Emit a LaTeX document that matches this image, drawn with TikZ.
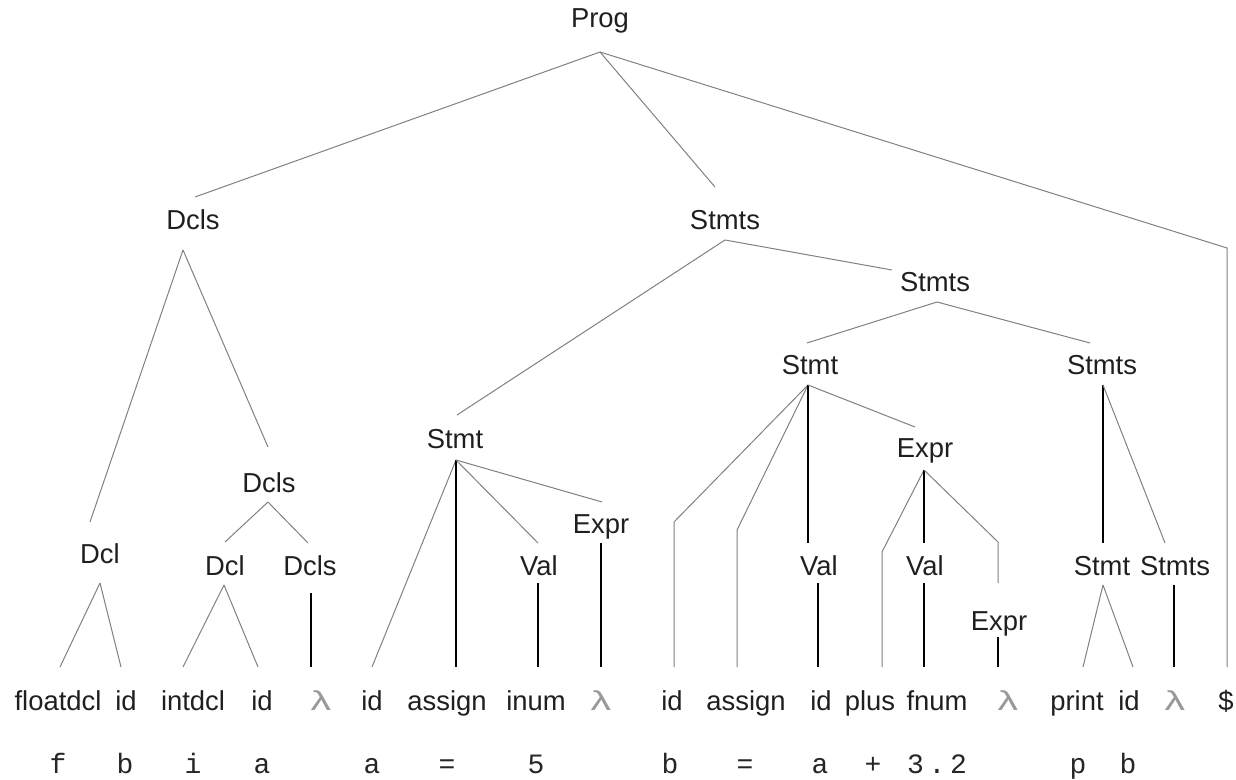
\documentclass[tikz,border=0pt]{standalone}
\usepackage{fontspec}
\setmainfont{Liberation Sans}
\newfontfamily\monof{Liberation Mono}
\newcommand\lamglyph{\scalebox{1.5}[1]{λ}}
\begin{document}
\begin{tikzpicture}[x=0.5pt,y=-0.5pt,
  lbl/.style={inner sep=0pt,anchor=base,font=\fontsize{13.7}{16}\selectfont,text=black!88},
  lam/.style={lbl,text=black!40},
  src/.style={inner sep=0pt,anchor=base,font=\monof\fontsize{14}{16}\selectfont,text=black!85},
  ge/.style={draw=black!50,line width=0.5pt},
  ke/.style={draw=black,line width=0.8pt}]
\useasboundingbox (0,0) rectangle (1236,780);
% ---------- interior nodes ----------
\node[lbl] (prog)   at (600,28)  {Prog};
\node[lbl] (dclsA)  at (193,230) {Dcls};
\node[lbl] (stmtsA) at (725,230) {Stmts};
\node[lbl] (stmtsB) at (935,292) {Stmts};
\node[lbl] (stmtA)  at (455,448) {Stmt};
\node[lbl] (stmtB)  at (810,375) {Stmt};
\node[lbl] (stmtsC) at (1102,375) {Stmts};
\node[lbl] (exprA)  at (925,458) {Expr};
\node[lbl] (dclsB)  at (269,492) {Dcls};
\node[lbl] (dclA)   at (100,563) {Dcl};
\node[lbl] (dclB)   at (225,575) {Dcl};
\node[lbl] (dclsC)  at (310,575) {Dcls};
\node[lbl] (exprB)  at (601,533) {Expr};
\node[lbl] (valA)   at (539,575) {Val};
\node[lbl] (valB)   at (819,575) {Val};
\node[lbl] (valC)   at (925,575) {Val};
\node[lbl] (exprC)  at (999,630) {Expr};
\node[lbl] (stmtC)  at (1102,575) {Stmt};
\node[lbl] (stmtsD) at (1175,575) {Stmts};
% ---------- leaves ----------
\node[lbl] (l1)  at (58,710)   {floatdcl};
\node[lbl] (l2)  at (126,710)  {id};
\node[lbl] (l3)  at (193,710)  {intdcl};
\node[lbl] (l4)  at (262,710)  {id};
\node[lam] (l5)  at (321,710)  {\lamglyph};
\node[lbl] (l6)  at (372,710)  {id};
\node[lbl] (l7)  at (447,710)  {assign};
\node[lbl] (l8)  at (536,710)  {inum};
\node[lam] (l9)  at (601,710)  {\lamglyph};
\node[lbl] (l10) at (672,710)  {id};
\node[lbl] (l11) at (746,710)  {assign};
\node[lbl] (l12) at (821,710)  {id};
\node[lbl] (l13) at (870,710)  {plus};
\node[lbl] (l14) at (937,710)  {fnum};
\node[lam] (l15) at (1008,710) {\lamglyph};
\node[lbl] (l16) at (1077,710) {print};
\node[lbl] (l17) at (1129,710) {id};
\node[lam] (l18) at (1175,710) {\lamglyph};
\node[lbl] (l19) at (1226,710) {\$};
% ---------- source text ----------
\node[src] (s1)  at (58,773)   {f};
\node[src] (s2)  at (125,773)  {b};
\node[src] (s3)  at (193,773)  {i};
\node[src] (s4)  at (262,773)  {a};
\node[src] (s5)  at (372,773)  {a};
\node[src] (s6)  at (447,773)  {=};
\node[src] (s7)  at (536,773)  {5};
\node[src] (s8)  at (670,773)  {b};
\node[src] (s9)  at (745,773)  {=};
\node[src] (s10) at (820,773)  {a};
\node[src] (s11) at (873,773)  {+};
\node[src] (s12) at (937,773)  {3\,.\,2};
\node[src] (s13) at (1078,773) {p};
\node[src] (s14) at (1128,773) {b};
% ---------- connector end points ----------
\coordinate (prog-b)   at (600,52);
\coordinate (dclsA-t)  at (195,197);  \coordinate (dclsA-b)  at (183,250);
\coordinate (stmtsA-t) at (715,187);  \coordinate (stmtsA-b) at (725,240);
\coordinate (dollar-k) at (1227,248);
\coordinate (stmtsB-t) at (892,270);  \coordinate (stmtsB-b) at (937,302);
\coordinate (stmtA-t)  at (457,415);  \coordinate (stmtA-b)  at (456,460);
\coordinate (stmtB-t)  at (807,343);  \coordinate (stmtB-b)  at (808,385);
\coordinate (stmtsC-t) at (1090,343); \coordinate (stmtsC-b) at (1103,385);
\coordinate (exprA-t)  at (915,427);  \coordinate (exprA-b)  at (924,470);
\coordinate (dclsB-t)  at (268,447);  \coordinate (dclsB-b)  at (268,502);
\coordinate (dclA-t)   at (90,522);   \coordinate (dclA-b)   at (100,583);
\coordinate (dclB-t)   at (225,542);  \coordinate (dclB-b)   at (224,585);
\coordinate (dclsC-t)  at (308,543);  \coordinate (dclsC-b)  at (311,593);
\coordinate (exprB-t)  at (602,502);  \coordinate (exprB-b)  at (601,543);
\coordinate (valA-t)   at (538,543);  \coordinate (valA-b)   at (538,583);
\coordinate (valB-t)   at (808,543);  \coordinate (valB-b)   at (818,583);
\coordinate (valC-t)   at (924,543);  \coordinate (valC-b)   at (924,583);
\coordinate (exprC-k)  at (998,542);
\coordinate (exprC-t)  at (998,583);  \coordinate (exprC-b)  at (998,637);
\coordinate (stmtC-t)  at (1103,543); \coordinate (stmtC-b)  at (1103,585);
\coordinate (stmtsD-t) at (1165,543); \coordinate (stmtsD-b) at (1174,585);
\coordinate (l10-k) at (674,522);
\coordinate (l11-k) at (737,530);
\coordinate (l13-k) at (882,552);
\coordinate (l1-t)  at (60,667);   \coordinate (l2-t)  at (121,667);
\coordinate (l3-t)  at (183,667);  \coordinate (l4-t)  at (258,667);
\coordinate (l5-t)  at (311,667);  \coordinate (l6-t)  at (372,667);
\coordinate (l7-t)  at (456,667);  \coordinate (l8-t)  at (538,667);
\coordinate (l9-t)  at (601,667);  \coordinate (l10-t) at (674,667);
\coordinate (l11-t) at (737,667);  \coordinate (l12-t) at (818,667);
\coordinate (l13-t) at (882,667);  \coordinate (l14-t) at (924,667);
\coordinate (l15-t) at (998,667);  \coordinate (l16-t) at (1083,667);
\coordinate (l17-t) at (1133,667); \coordinate (l18-t) at (1174,667);
\coordinate (l19-t) at (1227,667);
% ---------- connectors ----------
\draw[ge] (prog-b) -- (dclsA-t);
\draw[ge] (prog-b) -- (stmtsA-t);
\draw[ge] (prog-b) -- (dollar-k) -- (l19-t);
\draw[ge] (dclsA-b) -- (dclA-t);
\draw[ge] (dclsA-b) -- (dclsB-t);
\draw[ge] (dclsB-b) -- (dclB-t);
\draw[ge] (dclsB-b) -- (dclsC-t);
\draw[ge] (dclA-b) -- (l1-t);
\draw[ge] (dclA-b) -- (l2-t);
\draw[ge] (dclB-b) -- (l3-t);
\draw[ge] (dclB-b) -- (l4-t);
\draw[ke] (dclsC-b) -- (l5-t);
\draw[ge] (stmtsA-b) -- (stmtA-t);
\draw[ge] (stmtsA-b) -- (stmtsB-t);
\draw[ge] (stmtA-b) -- (l6-t);
\draw[ke] (stmtA-b) -- (l7-t);
\draw[ge] (stmtA-b) -- (valA-t);
\draw[ge] (stmtA-b) -- (exprB-t);
\draw[ke] (valA-b) -- (l8-t);
\draw[ke] (exprB-b) -- (l9-t);
\draw[ge] (stmtsB-b) -- (stmtB-t);
\draw[ge] (stmtsB-b) -- (stmtsC-t);
\draw[ge] (stmtB-b) -- (l10-k) -- (l10-t);
\draw[ge] (stmtB-b) -- (l11-k) -- (l11-t);
\draw[ke] (stmtB-b) -- (valB-t);
\draw[ge] (stmtB-b) -- (exprA-t);
\draw[ke] (valB-b) -- (l12-t);
\draw[ge] (exprA-b) -- (l13-k) -- (l13-t);
\draw[ke] (exprA-b) -- (valC-t);
\draw[ge] (exprA-b) -- (exprC-k) -- (exprC-t);
\draw[ke] (valC-b) -- (l14-t);
\draw[ke] (exprC-b) -- (l15-t);
\draw[ke] (stmtsC-b) -- (stmtC-t);
\draw[ge] (stmtsC-b) -- (stmtsD-t);
\draw[ge] (stmtC-b) -- (l16-t);
\draw[ge] (stmtC-b) -- (l17-t);
\draw[ke] (stmtsD-b) -- (l18-t);
\end{tikzpicture}
\end{document}
